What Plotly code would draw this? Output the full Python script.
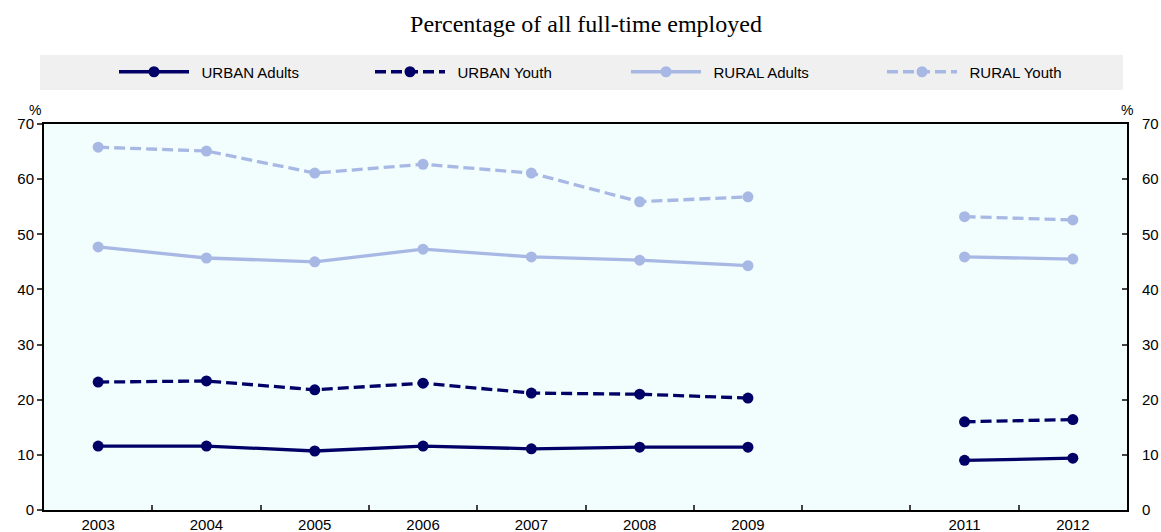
import plotly.graph_objects as go

years = ["2003", "2004", "2005", "2006", "2007", "2008", "2009", "2010", "2011", "2012"]
year_labels = ["2003", "2004", "2005", "2006", "2007", "2008", "2009", "", "2011", "2012"]

urban_adults = [11.6, 11.6, 10.7, 11.6, 11.1, 11.4, 11.4, None, 9.0, 9.4]
urban_youth = [23.2, 23.4, 21.8, 23.0, 21.2, 21.0, 20.3, None, 16.0, 16.4]
rural_adults = [47.7, 45.7, 45.0, 47.3, 45.9, 45.3, 44.3, None, 45.9, 45.5]
rural_youth = [65.8, 65.1, 61.1, 62.7, 61.1, 55.9, 56.8, None, 53.2, 52.6]

navy = "#000066"
light = "#a8b8e4"
dashed = "11px,5px"

series = [
    ("URBAN Adults", urban_adults, navy, "solid"),
    ("URBAN Youth", urban_youth, navy, dashed),
    ("RURAL Adults", rural_adults, light, "solid"),
    ("RURAL Youth", rural_youth, light, dashed),
]

fig = go.Figure()
for name, vals, color, dash in series:
    fig.add_trace(go.Scatter(
        x=years, y=vals, name="\u2002" + name, mode="lines+markers",
        line=dict(color=color, width=3.3, dash=dash),
        marker=dict(color=color, size=11),
        connectgaps=False,
    ))

# invisible trace so the right-hand axis gets drawn
fig.add_trace(go.Scatter(x=years, y=[None] * len(years), yaxis="y2",
                         showlegend=False, hoverinfo="skip"))

font = "Liberation Sans, Arial, sans-serif"

fig.update_layout(
    width=1161, height=532,
    margin=dict(l=44, r=34, t=124, b=22),
    paper_bgcolor="white",
    plot_bgcolor="#f2fdfd",
    font=dict(family=font, size=15, color="black"),
    title=dict(text="Percentage of all full-time employed", x=586 / 1161, xanchor="center",
               y=1 - 24 / 532, yanchor="middle",
               font=dict(family="Liberation Serif, Times New Roman, serif", size=24)),
    showlegend=True,
    legend=dict(orientation="h", x=114 / 1161, xanchor="left", y=(532 - 72) / 532,
                yanchor="middle", xref="container", yref="container",
                bgcolor="rgba(0,0,0,0)",
                entrywidth=171, itemwidth=70, font=dict(size=15),
                traceorder="normal"),
    xaxis=dict(
        type="category", categoryorder="array", categoryarray=years,
        tickmode="array", tickvals=years, ticktext=year_labels,
        tickson="boundaries", ticks="inside", ticklen=5, tickwidth=1.5,
        range=[-0.5, 9.5], showline=True, linecolor="black", linewidth=2,
        mirror=True, showgrid=False, zeroline=False, automargin=False,
    ),
    yaxis=dict(
        range=[0, 70], dtick=10, ticks="outside", ticklen=5, tickwidth=1.5,
        showline=True, linecolor="black", linewidth=2, showgrid=False,
        zeroline=False, automargin=False,
    ),
    yaxis2=dict(
        range=[0, 70], dtick=10, overlaying="y", side="right",
        ticks="inside", ticklen=5, tickwidth=1.5, ticklabelstandoff=10,
        showline=True, linecolor="black", linewidth=2, showgrid=False,
        zeroline=False, automargin=False,
    ),
    shapes=[dict(type="rect", xref="paper", yref="paper",
                 x0=-4 / 1083, x1=(1123 - 44) / 1083,
                 y0=(510 - 90) / 386, y1=(510 - 55) / 386,
                 fillcolor="#f0f0f0", line=dict(width=0), layer="below")],
    annotations=[
        dict(text="%", xref="paper", yref="paper", x=-1 / 1083, y=(510 - 110) / 386,
             xanchor="right", yanchor="middle", showarrow=False, font=dict(size=14)),
        dict(text="%", xref="paper", yref="paper", x=1, y=(510 - 110) / 386,
             xanchor="center", yanchor="middle", showarrow=False, font=dict(size=14)),
    ],
)

fig.write_html("out.html", config={"displayModeBar": False},
               post_script="document.body.style.margin='0';document.body.style.overflow='hidden';")
